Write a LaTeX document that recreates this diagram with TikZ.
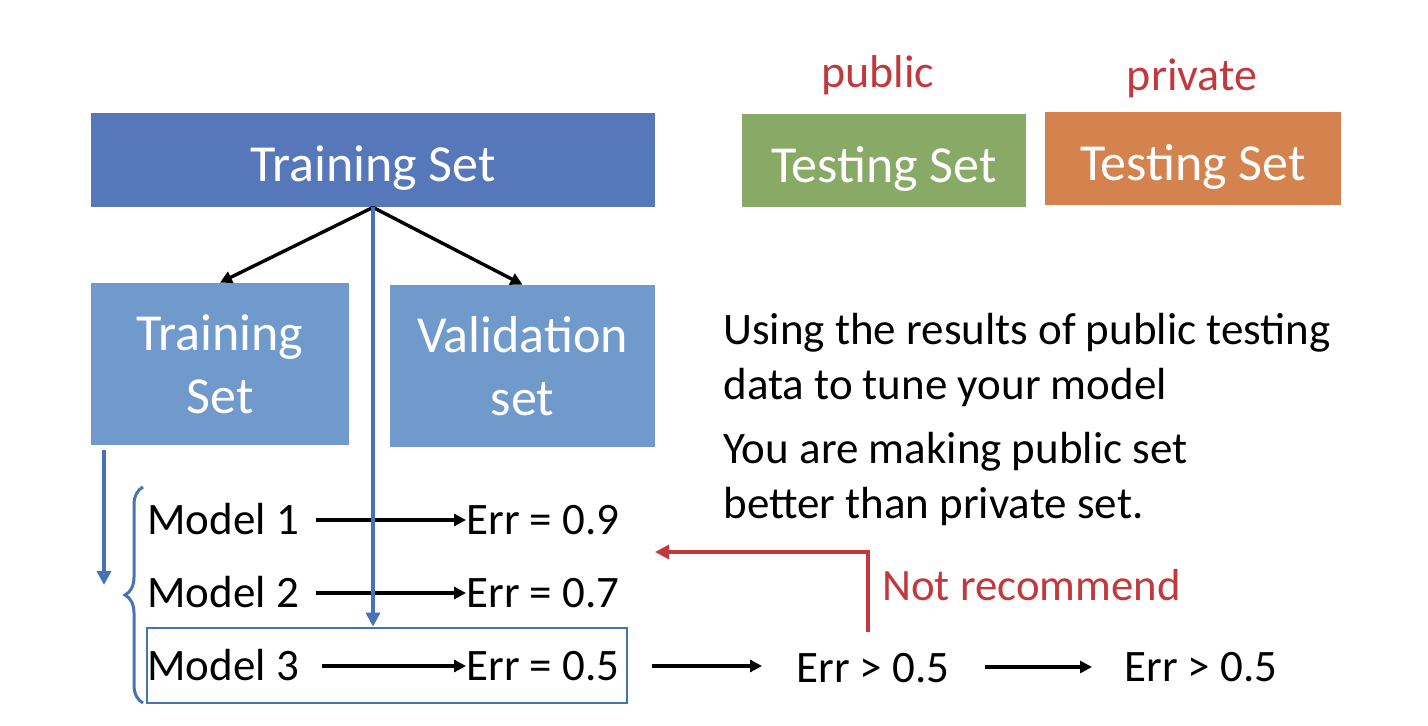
\documentclass[tikz,border=0pt]{standalone}
\usepackage{fontspec}
\setmainfont{Carlito}
\usetikzlibrary{arrows.meta,decorations.pathreplacing}
\definecolor{topblue}{HTML}{5677B9}
\definecolor{subblue}{HTML}{7099CC}
\definecolor{tgreen}{HTML}{89A966}
\definecolor{torange}{HTML}{D4834F}
\definecolor{tred}{HTML}{C1393C}
\definecolor{lblue}{HTML}{4573B5}
\tikzset{
  box/.style={draw=none, inner sep=0pt, text=white, align=center, font=\fontsize{26}{31.5}\selectfont},
  onebox/.style={box, text height=26pt, text depth=4pt},
  lbl/.style={inner sep=0pt, text height=18.5pt, text depth=4pt, font=\fontsize{22.5}{27.5}\selectfont},
  para/.style={inner sep=0pt, anchor=north west, align=left, font=\fontsize{22.5}{27.5}\selectfont},
  redlbl/.style={inner sep=0pt, text=tred, font=\fontsize{23}{27}\selectfont},
  blk/.style={-{Triangle[length=6pt,width=6pt]}, line width=1.7pt, black},
  blu/.style={-{Triangle[length=7pt,width=7pt]}, line width=1.8pt, lblue},
  rd/.style={-{Triangle[length=7pt,width=7pt]}, line width=1.6pt, tred},
}
\begin{document}
\begin{tikzpicture}[x=0.5pt,y=-0.5pt]
\useasboundingbox (0,0) rectangle (1428,726);
% top boxes
\node[onebox, fill=topblue, minimum width=282pt, minimum height=47pt] (top) at (373,160) {Training Set};
\node[box, fill=subblue, minimum width=129pt, minimum height=81pt] (tr) at (220,364) {Training\\Set};
\node[box, fill=subblue, minimum width=132.5pt, minimum height=81pt] (va) at (522.5,366) {Validation\\set};
\node[onebox, fill=tgreen, minimum width=142pt, minimum height=46.5pt] (pub) at (884,160.5) {Testing Set};
\node[onebox, fill=torange, minimum width=148pt, minimum height=46.5pt] (pri) at (1193,158.5) {Testing Set};
\node[redlbl] (publbl) at (878,75) {public};
\node[redlbl] (prilbl) at (1192,78) {private};
% arrows from top
\draw[blk] (top.south) -- (tr.north);
\draw[blk] (top.south) -- (va.north);
% models
\node[lbl, anchor=west] (m1) at (147,520) {Model 1};
\node[lbl, anchor=west] (m2) at (147,593) {Model 2};
\node[lbl, anchor=west] (m3) at (147,666) {Model 3};
\node[lbl, anchor=west] (e1) at (466,520) {Err = 0.9};
\node[lbl, anchor=west] (e2) at (466,593) {Err = 0.7};
\node[lbl, anchor=west] (e3) at (466,666) {Err = 0.5};
\node[lbl, anchor=west] (e4) at (796,668) {Err > 0.5};
\node[lbl, anchor=west] (e5) at (1124,667) {Err > 0.5};
\draw[blk] (m1.east -| 316,0) -- (e1.west);
\draw[blk] (m2.east -| 316,0) -- (e2.west);
\draw[blk] (m3.east -| 322,0) -- (e3.west);
\draw[blk] (e3.east -| 652,0) -- ([xshift=-17pt]e3.east -| e4.west);
\draw[blk] (e5.west -| 985,0) -- ([xshift=-16pt]e5.west);
% blue frame round model 3
\node[draw=lblue, line width=1.4pt, minimum width=240pt, minimum height=37.5pt, inner sep=0pt] (sel) at (387,665.5) {};
% blue connectors
\draw[blu] (top.south) -- (top.south |- sel.north);
\coordinate (bstart) at (104,450);
\coordinate (bend) at (104,585);
\draw[blu] (bstart) -- (bend);
\draw[lblue, line width=1.5pt, decorate, decoration={brace, amplitude=9pt}] (143,703) -- (143,487);
% right text
\node[para] (p1) at (723,313) {Using the results of public testing\\data to tune your model};
\node[para] (p2) at (723,432) {You are making public set\\better than private set.};
% red feedback
\coordinate (rtop) at (868,552);
\coordinate (rend) at (655,552);
\draw[rd] (868,632) -- (rtop) -- (rend);
\node[redlbl, anchor=west, font=\fontsize{22.4}{26}\selectfont] (nr) at (882,585) {Not recommend};
\end{tikzpicture}
\end{document}
